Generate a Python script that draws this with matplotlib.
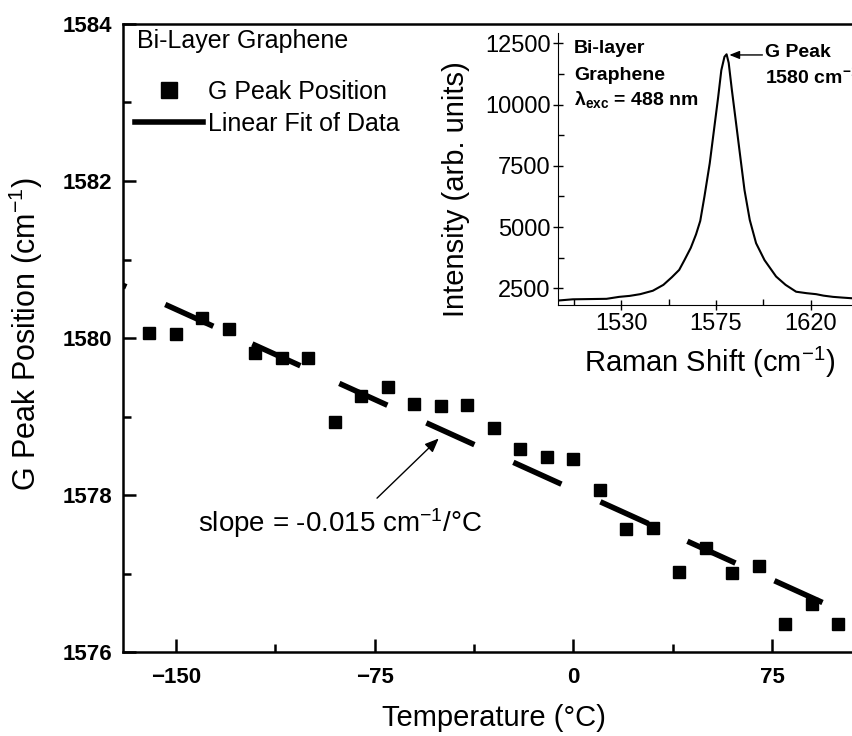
import numpy as np
import matplotlib
matplotlib.use('Agg')
import matplotlib.pyplot as plt
from matplotlib.lines import Line2D
from matplotlib.ticker import MultipleLocator

plt.rcParams['font.family'] = 'Liberation Sans'
plt.rcParams['mathtext.fontset'] = 'custom'
plt.rcParams['mathtext.rm'] = 'Liberation Sans'
plt.rcParams['mathtext.it'] = 'Liberation Sans:italic'
plt.rcParams['mathtext.bf'] = 'Liberation Sans:bold'
plt.rcParams['mathtext.default'] = 'regular'

# G peak position vs temperature (bi-layer graphene)
temperature = [-160, -150, -140, -130, -120, -110, -100, -90, -80, -70, -60, -50, -40,
               -30, -20, -10, 0, 10, 20, 30, 40, 50, 60, 70, 80, 90, 100]
g_peak = [1580.07, 1580.05, 1580.25, 1580.12, 1579.81, 1579.74, 1579.74, 1578.93, 1579.26,
          1579.38, 1579.16, 1579.14, 1579.15, 1578.86, 1578.59, 1578.48, 1578.46, 1578.06,
          1577.57, 1577.58, 1577.02, 1577.32, 1577.01, 1577.10, 1576.36, 1576.61, 1576.36]
fit_slope = -0.0153
fit_intercept = 1578.07

# inset: raman spectrum
raman_shift = [1500, 1507, 1515, 1523, 1529, 1534, 1539, 1545, 1550, 1554, 1557.5, 1560,
               1563, 1565.5, 1567.5, 1569.5, 1572, 1574, 1576, 1577.5, 1579, 1580, 1581,
               1582.5, 1584.5, 1586.5, 1588.5, 1591, 1594, 1598, 1603.5, 1608, 1613, 1618,
               1622.5, 1626, 1630.5, 1635, 1640]
intensity = [2000, 2050, 2060, 2070, 2150, 2190, 2260, 2400, 2640, 2950, 3250, 3650,
             4150, 4700, 5250, 6250, 7600, 8950, 10300, 11400, 11950, 12050, 11700,
             10600, 9240, 7870, 6510, 5290, 4340, 3650, 2980, 2640, 2360, 2300,
             2260, 2200, 2150, 2120, 2090]

x_ticks = [-150, -75, 0, 75]
y_ticks = [1576, 1578, 1580, 1582, 1584]
inset_x_ticks = [1530, 1575, 1620]
inset_y_ticks = [2500, 5000, 7500, 10000, 12500]

fig = plt.figure(figsize=(8.53, 7.36), dpi=100)
ax = fig.add_axes([0.1442, 0.1141, 0.8558, 0.8533])

ax.plot(temperature, g_peak, 's', color='k', markersize=8, zorder=3)
x_fit = np.array([-170, max(temperature)])
ax.plot(x_fit, fit_intercept + fit_slope * x_fit, color='k', lw=4,
        linestyle=(8.85, (9.5, 7.7)), zorder=2)

ax.set_xlim(-170, 105.6)
ax.set_ylim(1576, 1584)
ax.set_xticks(x_ticks)
ax.set_yticks(y_ticks)
ax.xaxis.set_minor_locator(MultipleLocator(37.5))
ax.yaxis.set_minor_locator(MultipleLocator(1))
ax.tick_params(which='both', direction='in', width=1.8, right=False, top=False)
ax.tick_params(which='major', length=9.5, labelsize=16)
ax.tick_params(which='minor', length=5.5)
ax.tick_params(axis='x', pad=11)
ax.tick_params(axis='y', pad=8)
for lab in ax.get_xticklabels() + ax.get_yticklabels():
    lab.set_fontweight('bold')
for s in ['left', 'bottom', 'top']:
    ax.spines[s].set_linewidth(1.8)
ax.spines['right'].set_visible(False)

ax.set_xlabel('Temperature (°C)', fontsize=21)
ax.xaxis.set_label_coords(0.508, -0.0828)
ax.set_ylabel('G Peak Position (cm$^{-1}$)', fontsize=22)
ax.yaxis.set_label_coords(-0.1068, 0.5064)

ax.text(0.0192, 0.973, 'Bi-Layer Graphene', transform=ax.transAxes, fontsize=18, va='center')

handles = [Line2D([], [], marker='s', ls='none', color='k', markersize=11),
           Line2D([], [], color='k', lw=4)]
ax.legend(handles, ['G Peak Position', 'Linear Fit of Data'], loc='upper left',
          bbox_to_anchor=(135 / 853, 1 - 80 / 736), bbox_transform=fig.transFigure,
          frameon=False, fontsize=18, handlelength=2.72, handletextpad=0.2,
          labelspacing=0.32, borderpad=0, borderaxespad=0)

ax.text(-141.5, 1577.64, 'slope = -0.015 cm$^{-1}$/°C', fontsize=20, va='center', ha='left')
ax.annotate('', xy=(-50.8, 1578.72), xytext=(-74.1, 1577.96),
            arrowprops=dict(arrowstyle='-|>,head_length=0.6,head_width=0.25', color='k',
                            lw=1, shrinkA=0, shrinkB=0, mutation_scale=14))

# inset
ax_in = fig.add_axes([0.6542, 0.5856, 0.3458, 0.3696])
ax_in.plot(raman_shift, intensity, color='k', lw=1.5)
ax_in.set_xlim(1500, 1640)
ax_in.set_ylim(1818, 12920)
ax_in.set_xticks(inset_x_ticks)
ax_in.set_yticks(inset_y_ticks)
ax_in.xaxis.set_minor_locator(MultipleLocator(22.5))
ax_in.yaxis.set_minor_locator(MultipleLocator(1250))
ax_in.tick_params(which='major', direction='inout', length=7, width=1, labelsize=17, pad=2)
ax_in.tick_params(which='minor', direction='in', length=4, width=1)
ax_in.spines['top'].set_visible(False)
ax_in.spines['right'].set_visible(False)
ax_in.set_ylabel('Intensity (arb. units)', fontsize=21)
ax_in.yaxis.set_label_coords(-0.298, 0.4265)
ax_in.set_xlabel('Raman Shift (cm$^{-1}$)', fontsize=21)
ax_in.xaxis.set_label_coords(0.515, -0.147)

ax_in.text(0.054, 0.926, 'Bi-layer', transform=ax_in.transAxes, fontsize=14,
           fontweight='bold', va='baseline')
ax_in.text(0.054, 0.827, 'Graphene', transform=ax_in.transAxes, fontsize=14,
           fontweight='bold', va='baseline')
ax_in.text(0.054, 0.735, r'λ$_{\mathbf{exc}}$ = 488 nm', transform=ax_in.transAxes,
           fontsize=14, fontweight='bold', va='baseline')
ax_in.text(0.7017, 0.913, 'G Peak', transform=ax_in.transAxes, fontsize=14,
           fontweight='bold', va='baseline')
ax_in.text(0.7017, 0.816, r'1580 cm$^{\mathbf{-1}}$', transform=ax_in.transAxes,
           fontsize=14, fontweight='bold', va='baseline')
ax_in.annotate('', xy=(1581.3, 12023), xytext=(1597, 12023),
               arrowprops=dict(arrowstyle='-|>,head_length=0.5,head_width=0.2', color='k',
                               lw=1, shrinkA=0, shrinkB=0, mutation_scale=12))

fig.savefig('out.png', dpi=100)
